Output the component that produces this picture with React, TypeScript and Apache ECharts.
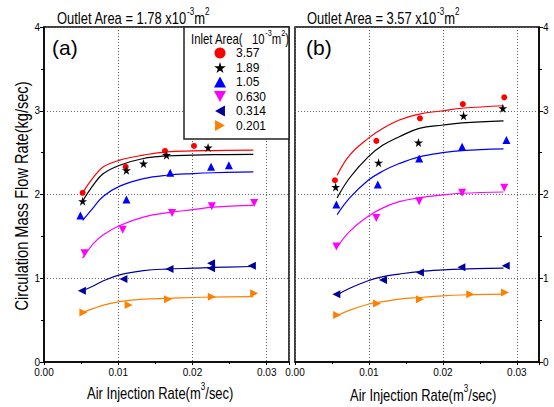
import React, { useEffect, useRef } from "react";
import * as echarts from "echarts";

const NARROW = "'Liberation Sans', Arial, sans-serif";
const SANS = "'Liberation Sans', Arial, sans-serif";
const SQUEEZE = 0.81;

// Legend / series identities
const inletAreas = ["3.57", "1.89", "1.05", "0.630", "0.314", "0.201"];
const seriesColors = ["#ff0000", "#000000", "#0000ff", "#ff00ff", "#00009a", "#ff8000"];
const seriesSymbols = [
  "circle",
  "path://M50,0 L61,35 L98,35 L68,57 L79,91 L50,70 L21,91 L32,57 L2,35 L39,35 Z",
  "path://M5,0 L10,9 L0,9 Z",
  "path://M0,0 L10,0 L5,9 Z",
  "path://M0,5 L9,0 L9,10 Z",
  "path://M0,0 L9,5 L0,10 Z",
];
const seriesSymbolSizes = [6, 9, 8, 8, 8, 8];

// ---------- Panel (a): Outlet Area = 1.78e-3 m2 ----------
const aX_357 = [0.0052, 0.011, 0.0163, 0.0202];
const aY_357 = [2.02, 2.33, 2.52, 2.58];
const aX_189 = [0.0052, 0.0111, 0.0134, 0.0165, 0.0221];
const aY_189 = [1.92, 2.29, 2.37, 2.47, 2.56];
const aX_105 = [0.0049, 0.0111, 0.017, 0.0225, 0.0249];
const aY_105 = [1.75, 1.94, 2.26, 2.33, 2.35];
const aX_063 = [0.00545, 0.0106, 0.01725, 0.0226, 0.0283];
const aY_063 = [1.3, 1.58, 1.78, 1.86, 1.9];
const aX_0314 = [0.0051, 0.0107, 0.0169, 0.0225, 0.0225, 0.028];
const aY_0314 = [0.85, 0.99, 1.11, 1.18, 1.12, 1.15];
const aX_0201 = [0.0053, 0.0114, 0.0167, 0.0226, 0.0283];
const aY_0201 = [0.59, 0.68, 0.75, 0.78, 0.82];

// fitted curves (a)
const aCurveX = [0.0052, 0.0067, 0.008, 0.0102, 0.0134, 0.0165, 0.0201, 0.0228, 0.0282];
const aCurve_357 = [2.02, 2.21, 2.33, 2.41, 2.47, 2.51, 2.52, 2.525, 2.53];
const aCurve_189 = [1.92, 2.12, 2.25, 2.35, 2.43, 2.46, 2.47, 2.475, 2.48];
const aCurve_105 = [1.69, 1.85, 1.98, 2.1, 2.19, 2.23, 2.25, 2.26, 2.27];
const aCurve_063 = [1.24, 1.42, 1.52, 1.63, 1.73, 1.78, 1.82, 1.85, 1.87];
const aCurve_0314 = [0.85, 0.91, 0.97, 1.04, 1.09, 1.11, 1.12, 1.13, 1.14];
const aCurve_0201 = [0.59, 0.64, 0.68, 0.72, 0.75, 0.76, 0.77, 0.775, 0.78];

// ---------- Panel (b): Outlet Area = 3.57e-3 m2 ----------
const bX_357 = [0.0054, 0.011, 0.0169, 0.0227, 0.0283];
const bY_357 = [2.17, 2.64, 2.91, 3.08, 3.16];
const bX_189 = [0.0055, 0.0113, 0.0167, 0.0228, 0.0281];
const bY_189 = [2.09, 2.38, 2.62, 2.94, 3.03];
const bX_105 = [0.0056, 0.0112, 0.0168, 0.0226, 0.0286];
const bY_105 = [1.88, 2.12, 2.43, 2.57, 2.65];
const bX_063 = [0.0056, 0.011, 0.0168, 0.0226, 0.0283];
const bY_063 = [1.38, 1.72, 1.92, 2.02, 2.08];
const bX_0314 = [0.0056, 0.0119, 0.0169, 0.0225, 0.0285];
const bY_0314 = [0.81, 0.98, 1.07, 1.13, 1.15];
const bX_0201 = [0.0057, 0.0111, 0.0169, 0.0237, 0.0284];
const bY_0201 = [0.56, 0.7, 0.75, 0.81, 0.83];

const bCurveX = [0.0057, 0.0074, 0.0099, 0.0119, 0.0141, 0.0168, 0.02, 0.0226, 0.0282];
const bCurve_357 = [2.23, 2.47, 2.67, 2.79, 2.89, 2.96, 3.0, 3.03, 3.06];
const bCurve_189 = [1.96, 2.2, 2.45, 2.59, 2.69, 2.79, 2.83, 2.855, 2.88];
const bCurve_105 = [1.76, 1.96, 2.17, 2.28, 2.37, 2.45, 2.5, 2.525, 2.545];
const bCurve_063 = [1.37, 1.56, 1.74, 1.84, 1.915, 1.96, 1.995, 2.015, 2.03];
const bCurve_0314 = [0.8, 0.88, 0.97, 1.02, 1.05, 1.08, 1.1, 1.11, 1.12];
const bCurve_0201 = [0.553, 0.62, 0.69, 0.72, 0.75, 0.77, 0.79, 0.8, 0.81];

const xTickLabels = ["0.00", "0.01", "0.02", "0.03"];

const aPoints = [
  [aX_357, aY_357], [aX_189, aY_189], [aX_105, aY_105],
  [aX_063, aY_063], [aX_0314, aY_0314], [aX_0201, aY_0201],
];
const aCurves = [aCurve_357, aCurve_189, aCurve_105, aCurve_063, aCurve_0314, aCurve_0201];
const bPoints = [
  [bX_357, bY_357], [bX_189, bY_189], [bX_105, bY_105],
  [bX_063, bY_063], [bX_0314, bY_0314], [bX_0201, bY_0201],
];
const bCurves = [bCurve_357, bCurve_189, bCurve_105, bCurve_063, bCurve_0314, bCurve_0201];

const zip = (xs: number[], ys: number[]) => xs.map((x, i) => [x, ys[i]]);

function buildSeries() {
  const out: any[] = [];
  const panels = [
    { pts: aPoints, curves: aCurves, cx: aCurveX, idx: 0 },
    { pts: bPoints, curves: bCurves, cx: bCurveX, idx: 1 },
  ];
  panels.forEach((p) => {
    inletAreas.forEach((name, i) => {
      out.push({
        type: "line",
        name: "fit" + p.idx + "_" + name,
        xAxisIndex: p.idx,
        yAxisIndex: p.idx,
        data: zip(p.cx, p.curves[i]),
        smooth: 0.4,
        showSymbol: false,
        symbol: "none",
        lineStyle: { color: seriesColors[i], width: 1.2 },
        itemStyle: { color: seriesColors[i] },
        z: 3,
      });
      out.push({
        type: "scatter",
        name,
        xAxisIndex: p.idx,
        yAxisIndex: p.idx,
        data: zip(p.pts[i][0], p.pts[i][1]),
        symbol: seriesSymbols[i],
        symbolSize: seriesSymbolSizes[i],
        itemStyle: { color: seriesColors[i], opacity: 1 },
        z: 4,
      });
    });
  });
  return out;
}

const axisLineStyle = { color: "#000", width: 1.5 };
const splitStyle = { type: [1, 2] as any, color: "#666", width: 1 };

function xAxis(gridIndex: number) {
  return {
    type: "value",
    gridIndex,
    min: 0,
    max: 0.033,
    interval: 0.01,
    axisLine: { show: true, onZero: false, lineStyle: axisLineStyle },
    axisTick: { show: true, length: 3, lineStyle: { color: "#000" } },
    minorTick: { show: true, splitNumber: 2, length: 2, lineStyle: { color: "#000" } },
    splitLine: { show: true, lineStyle: splitStyle },
    axisLabel: {
      showMaxLabel: false,
      formatter: (v: number) => xTickLabels[Math.round(v / 0.01)] ?? "",
      fontFamily: SANS,
      fontSize: 10,
      color: "#000",
      margin: 5,
    },
  };
}

function yAxis(gridIndex: number, position: "left" | "right") {
  return {
    type: "value",
    gridIndex,
    position,
    min: 0,
    max: 4,
    interval: 1,
    axisLine: { show: true, onZero: false, lineStyle: axisLineStyle },
    axisTick: { show: true, length: 4, lineStyle: { color: "#000" } },
    minorTick: { show: true, splitNumber: 2, length: 3, lineStyle: { color: "#000" } },
    splitLine: { show: true, lineStyle: splitStyle },
    axisLabel: { fontFamily: SANS, fontSize: 10, color: "#000", margin: 4 },
  };
}

const supRich = {
  n: { fontFamily: NARROW, fontSize: 16, color: "#000", lineHeight: 20, verticalAlign: "bottom" },
  s: { fontFamily: NARROW, fontSize: 10, color: "#000", lineHeight: 20, verticalAlign: "top" },
};
const supRichSmall = {
  n: { fontFamily: NARROW, fontSize: 14, color: "#000", lineHeight: 17, verticalAlign: "bottom" },
  s: { fontFamily: NARROW, fontSize: 9, color: "#000", lineHeight: 17, verticalAlign: "top" },
};

function richText(x: number, y: number, text: string, rich: any) {
  return {
    type: "text",
    z: 6,
    x,
    y,
    scaleX: SQUEEZE,
    style: { text, rich, align: "left", verticalAlign: "top" },
  };
}

export default function App() {
  const ref = useRef<HTMLDivElement>(null);
  useEffect(() => {
    if (!ref.current) return;
    const chart = echarts.init(ref.current, undefined, { renderer: "svg" });
    chart.setOption({
      animation: false,
      backgroundColor: "#fff",
      grid: [
        { left: 44, top: 27, width: 245, height: 335, show: true, borderColor: "#000", borderWidth: 1.5 },
        { left: 295, top: 27, width: 244, height: 335, show: true, borderColor: "#000", borderWidth: 1.5 },
      ],
      xAxis: [xAxis(0), xAxis(1)],
      yAxis: [yAxis(0, "left"), yAxis(1, "right")],
      legend: {
        show: true,
        orient: "vertical",
        left: 209,
        top: 42,
        padding: 5,
        itemWidth: 12,
        itemHeight: 11,
        itemGap: 2.5,
        data: inletAreas,
        selectedMode: false,
        textStyle: { fontFamily: SANS, fontSize: 12, color: "#000", padding: [0, 0, 0, 5] },
        z: 6,
      },
      graphic: [
        {
          type: "rect",
          z: 5,
          shape: { x: 184, y: 27, width: 105, height: 112 },
          style: { fill: "#fff", stroke: "#222", lineWidth: 1.5 },
        },
        richText(191, 29, "{n|Inlet Area(   10}{s|-3}{n|m}{s|2}{n|)}", supRichSmall),
        richText(57, 7, "{n|Outlet Area = 1.78 x10}{s|-3}{n|m}{s|2}", supRich),
        richText(307, 7, "{n|Outlet Area = 3.57 x10}{s|-3}{n|m}{s|2}", supRich),
        richText(87, 382, "{n|Air Injection Rate(m}{s|3}{n|/sec)}", supRich),
        richText(350, 384, "{n|Air Injection Rate(m}{s|3}{n|/sec)}", supRich),
        {
          type: "text",
          z: 6,
          x: 52,
          y: 37,
          style: { text: "(a)", fontFamily: SANS, fontSize: 21, fill: "#000" },
        },
        {
          type: "text",
          z: 6,
          x: 306,
          y: 37,
          style: { text: "(b)", fontFamily: SANS, fontSize: 21, fill: "#000" },
        },
        {
          type: "text",
          z: 6,
          x: 21,
          y: 196,
          rotation: Math.PI / 2,
          scaleX: SQUEEZE,
          style: {
            text: "Circulation Mass Flow Rate(kg/sec)",
            fontFamily: NARROW,
            fontSize: 18,
            fill: "#000",
            align: "center",
            verticalAlign: "middle",
          },
        },
      ],
      series: buildSeries(),
    });
    return () => chart.dispose();
  }, []);
  return <div ref={ref} style={{ width: 554, height: 407, position: "absolute", left: 0, top: 0 }} />;
}
